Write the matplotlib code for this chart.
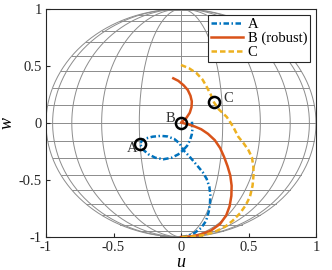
import numpy as np
import matplotlib.pyplot as plt

plt.rcParams['font.family'] = ['Liberation Serif', 'DejaVu Serif']

# path A (dash-dot)
a_u = [0.081, 0.085, 0.08, 0.067, 0.045, 0.017, -0.02, -0.07, -0.13, -0.19, -0.24,
       -0.28, -0.304, -0.29, -0.26, -0.21, -0.15, -0.1, -0.05, -0.01, 0.017, 0.06,
       0.116, 0.16, 0.19, 0.21, 0.217, 0.215, 0.205, 0.185, 0.15, 0.1, 0.05, 0.0]
a_w = [0.011, -0.05, -0.1, -0.15, -0.2, -0.237, -0.275, -0.305, -0.318, -0.305, -0.275,
       -0.235, -0.184, -0.155, -0.135, -0.12, -0.113, -0.118, -0.14, -0.18, -0.237, -0.29,
       -0.368, -0.43, -0.49, -0.56, -0.63, -0.7, -0.78, -0.86, -0.92, -0.965, -0.99, -1.0]

# path B (robust)
b_u = [-0.057, -0.02, 0.02, 0.05, 0.07, 0.08, 0.078, 0.065, 0.04, 0.0, 0.05, 0.1,
       0.15, 0.2, 0.25, 0.29, 0.32, 0.345, 0.365, 0.375, 0.373, 0.36, 0.335, 0.29,
       0.22, 0.14, 0.06, 0.0]
b_w = [0.392, 0.37, 0.33, 0.29, 0.24, 0.19, 0.14, 0.09, 0.045, 0.003, -0.01, -0.03,
       -0.055, -0.095, -0.15, -0.22, -0.3, -0.38, -0.46, -0.55, -0.64, -0.73, -0.81, -0.885,
       -0.945, -0.98, -0.997, -1.0]

# path C
c_u = [0.0, 0.06, 0.116, 0.16, 0.19, 0.22, 0.244, 0.28, 0.339, 0.385, 0.424, 0.465,
       0.499, 0.525, 0.536, 0.537, 0.53, 0.511, 0.48, 0.437, 0.38, 0.326, 0.25, 0.178,
       0.09, 0.0]
c_w = [0.509, 0.48, 0.436, 0.38, 0.318, 0.25, 0.182, 0.12, 0.053, -0.03, -0.12, -0.18,
       -0.237, -0.3, -0.38, -0.46, -0.55, -0.646, -0.72, -0.792, -0.86, -0.91, -0.955, -0.982,
       -0.996, -1.0]

# marked points and their labels
pt_names = ['A', 'B', 'C']
pt_u = [-0.304, 0.0, 0.244]
pt_w = [-0.184, 0.003, 0.182]
lbl_u = [-0.363, -0.081, 0.35]
lbl_w = [-0.222, 0.041, 0.217]

ticks = [-1, -0.5, 0, 0.5, 1]
tick_labels = ['-1', '-0.5', '0', '0.5', '1']

fig = plt.figure(figsize=(3.32, 2.70), dpi=100)
ax = fig.add_axes([46 / 332, 33 / 270, 270 / 332, 228 / 270])

# sphere mesh seen from the side (20 segments like matlab sphere)
grid_col = '#8c8c8c'
lat = np.arange(-90, 91, 9)
lon = np.arange(-90, 91, 18)
t = np.linspace(-np.pi / 2, np.pi / 2, 200)
for la in lat[1:-1]:
    r = np.cos(np.radians(la))
    ax.plot([-r, r], [np.sin(np.radians(la))] * 2, color=grid_col, lw=0.7, zorder=1)
for lo in lon:
    ax.plot(np.sin(np.radians(lo)) * np.cos(t), np.sin(t), color=grid_col, lw=0.7, zorder=1)

ax.plot(a_u, a_w, color='#0072BD', ls=(0, (2.2, 1.0, 0.6, 1.0)), lw=1.8, label='A', zorder=3)
ax.plot(b_u, b_w, color='#D95319', ls='-', lw=1.8, label='B (robust)', zorder=3)
ax.plot(c_u, c_w, color='#EDB120', ls=(0, (2.2, 1.2)), lw=1.8, label='C', zorder=3)

ax.plot(pt_u, pt_w, 'o', ms=8, mfc='none', mec='black', mew=1.8, zorder=4)
for i in range(len(pt_names)):
    ax.text(lbl_u[i], lbl_w[i], pt_names[i], fontsize=10.5, color='#333333',
            ha='center', va='center', zorder=5)

ax.set_xlim(-1, 1)
ax.set_ylim(-1, 1)
ax.set_xticks(ticks)
ax.set_xticklabels(tick_labels)
ax.set_yticks(ticks)
ax.set_yticklabels(tick_labels)
ax.tick_params(direction='in', length=3, labelsize=10.5, pad=3, colors='#262626')
for s in ax.spines.values():
    s.set_linewidth(0.8)
    s.set_color('#262626')

ax.set_xlabel('u', fontsize=13, style='italic', labelpad=0)
ax.set_ylabel('w', fontsize=13, style='italic', labelpad=2)

leg = ax.legend(loc='upper right', fontsize=10.5, frameon=True, fancybox=False,
                framealpha=1, edgecolor='#262626', handlelength=2.2, handletextpad=0.3,
                borderpad=0.2, labelspacing=0.05, borderaxespad=0.4)
leg.get_frame().set_linewidth(0.8)

fig.savefig('out.png', dpi=100)
